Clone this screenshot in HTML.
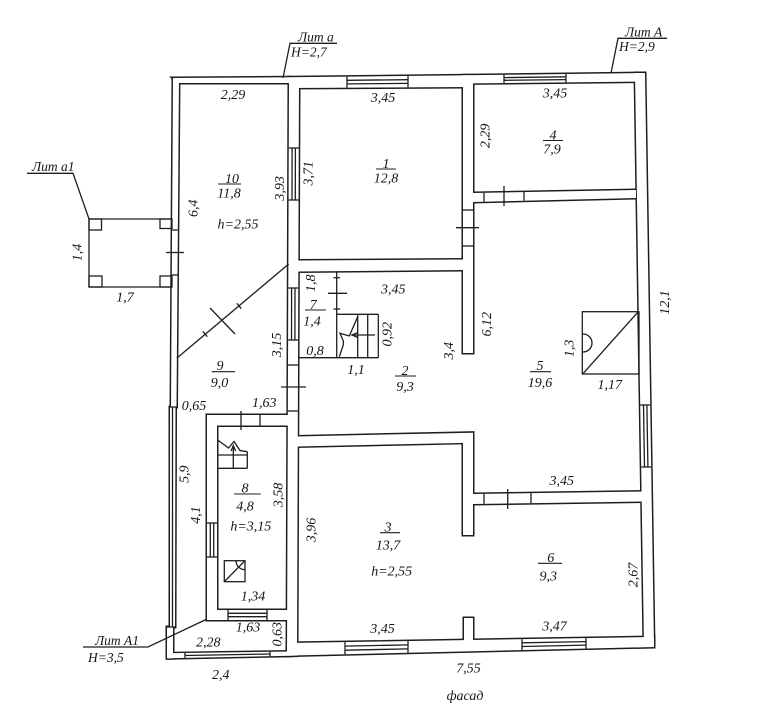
<!DOCTYPE html>
<html><head><meta charset="utf-8"><style>
html,body{margin:0;padding:0;background:#fff}
svg{display:block}
text{font-family:"Liberation Serif","DejaVu Serif",serif;font-style:italic;font-size:14px;fill:#151515}
.lt{font-size:13.5px}
</style></head><body>
<svg width="778" height="728" viewBox="0 0 778 728" xmlns="http://www.w3.org/2000/svg">
<rect width="778" height="728" fill="#fff"/>
<g fill="none" stroke="#1e1e1e" stroke-width="3">
<polygon points="173,78 179,78 176.5,407 171,407"/>
<polygon points="170,407 175.5,407 175,627 170,627"/>
<polygon points="167,627 173,627 173,658.3 167,658.3"/>
<polygon points="173,78 290,77.3 290,83 179,83"/>
<polygon points="289,77.3 468,75.3 468,87 289,88"/>
<polygon points="463,75.3 645,73 645,81.5 463,83.5"/>
<polygon points="635,73 645,73 654,647 644,647"/>
<polygon points="167,658.3 292,655.8 292,651.5 167,653.3"/>
<polygon points="287,655.6 654,647 654,637 287,643"/>
<polygon points="289,77.5 299,77.5 297,655.6 287,655.6"/>
<polygon points="463,76 473,76 473,353 463,353"/>
<polygon points="473,193 636,190 636,198 473,202"/>
<polygon points="297,260.5 463,259.5 463,270 297,271.5"/>
<polygon points="297,436.5 473,432.7 473,442.7 297,446.5"/>
<polygon points="463,433 473,433 473,535 463,535"/>
<polygon points="473,494 643,491.5 643,501.5 473,504"/>
<polygon points="464,618 473,618 473,642 464,642"/>
<polygon points="207,415 217,415 217,620 207,620"/>
<polygon points="207,415 288,415 288,425.5 207,425.5"/>
<polygon points="207,610 288,610 288,620 207,620"/>
</g>
<g fill="#fff" stroke="none">
<polygon points="173,78 179,78 176.5,407 171,407"/>
<polygon points="170,407 175.5,407 175,627 170,627"/>
<polygon points="167,627 173,627 173,658.3 167,658.3"/>
<polygon points="173,78 290,77.3 290,83 179,83"/>
<polygon points="289,77.3 468,75.3 468,87 289,88"/>
<polygon points="463,75.3 645,73 645,81.5 463,83.5"/>
<polygon points="635,73 645,73 654,647 644,647"/>
<polygon points="167,658.3 292,655.8 292,651.5 167,653.3"/>
<polygon points="287,655.6 654,647 654,637 287,643"/>
<polygon points="289,77.5 299,77.5 297,655.6 287,655.6"/>
<polygon points="463,76 473,76 473,353 463,353"/>
<polygon points="473,193 636,190 636,198 473,202"/>
<polygon points="297,260.5 463,259.5 463,270 297,271.5"/>
<polygon points="297,436.5 473,432.7 473,442.7 297,446.5"/>
<polygon points="463,433 473,433 473,535 463,535"/>
<polygon points="473,494 643,491.5 643,501.5 473,504"/>
<polygon points="464,618 473,618 473,642 464,642"/>
<polygon points="207,415 217,415 217,620 207,620"/>
<polygon points="207,415 288,415 288,425.5 207,425.5"/>
<polygon points="207,610 288,610 288,620 207,620"/>
</g>
<g stroke="#1e1e1e" stroke-width="1.3" fill="none">
<!-- windows -->
<line x1="347" y1="76.6" x2="347" y2="87.7"/><line x1="408" y1="75.9" x2="408" y2="87.3"/>
<line x1="347" y1="80.3" x2="408" y2="79.7"/><line x1="347" y1="83.9" x2="408" y2="83.4"/>
<line x1="504" y1="74.8" x2="504" y2="83.05"/><line x1="566" y1="74" x2="566" y2="82.4"/>
<line x1="504" y1="77.6" x2="566" y2="76.8"/><line x1="504" y1="80.3" x2="566" y2="79.6"/>
<line x1="288.8" y1="148" x2="298.8" y2="148"/><line x1="288.6" y1="200" x2="298.6" y2="200"/>
<line x1="292.1" y1="148" x2="292" y2="200"/><line x1="295.4" y1="148" x2="295.3" y2="200"/>
<line x1="288.3" y1="288" x2="298.3" y2="288"/><line x1="288.1" y1="340" x2="298.1" y2="340"/>
<line x1="291.6" y1="288" x2="291.5" y2="340"/><line x1="295" y1="288" x2="294.9" y2="340"/>
<line x1="640.2" y1="405" x2="650.2" y2="405"/><line x1="641.2" y1="467" x2="651.2" y2="467"/>
<line x1="643.5" y1="405" x2="644.5" y2="467"/><line x1="646.9" y1="405" x2="647.9" y2="467"/>
<line x1="345" y1="642.05" x2="345" y2="654.2"/><line x1="408" y1="641" x2="408" y2="652.8"/>
<line x1="345" y1="646.1" x2="408" y2="644.9"/><line x1="345" y1="650.2" x2="408" y2="648.9"/>
<line x1="522" y1="639.2" x2="522" y2="650.1"/><line x1="586" y1="638.1" x2="586" y2="648.6"/>
<line x1="522" y1="642.8" x2="586" y2="641.6"/><line x1="522" y1="646.5" x2="586" y2="645.1"/>
<line x1="207" y1="523" x2="217" y2="523"/><line x1="207" y1="557" x2="217" y2="557"/>
<line x1="210.3" y1="523" x2="210.3" y2="557"/><line x1="213.7" y1="523" x2="213.7" y2="557"/>
<line x1="228" y1="610" x2="228" y2="620"/><line x1="267" y1="610" x2="267" y2="620"/>
<line x1="228" y1="613.3" x2="267" y2="613.3"/><line x1="228" y1="616.7" x2="267" y2="616.7"/>
<line x1="185" y1="653" x2="185" y2="657.9"/><line x1="270" y1="651.8" x2="270" y2="656.2"/>
<line x1="185" y1="655.5" x2="270" y2="654"/>
<line x1="170" y1="407" x2="176.5" y2="407"/><line x1="167" y1="627" x2="175" y2="627"/>
<line x1="172.5" y1="407" x2="172.5" y2="627"/>
<!-- doors -->
<line x1="172.1" y1="230" x2="177.8" y2="230"/><line x1="171.8" y1="275" x2="177.5" y2="275"/>
<line x1="166" y1="252.5" x2="184" y2="252.5"/>
<line x1="288" y1="365" x2="298" y2="365"/><line x1="287.8" y1="411" x2="297.8" y2="411"/>
<line x1="281" y1="387" x2="306" y2="387"/>
<line x1="463" y1="210" x2="473" y2="210"/><line x1="463" y1="246" x2="473" y2="246"/>
<line x1="456" y1="227.7" x2="479" y2="227.7"/>
<line x1="484" y1="192.8" x2="484" y2="201.7"/><line x1="524" y1="192" x2="524" y2="200.7"/>
<line x1="504" y1="186" x2="504" y2="206"/>
<line x1="484" y1="493.8" x2="484" y2="503.8"/><line x1="531" y1="493.1" x2="531" y2="503.1"/>
<line x1="507.7" y1="489" x2="507.7" y2="509"/>
<line x1="260" y1="415" x2="260" y2="425.5"/>
<line x1="241" y1="411" x2="241" y2="430"/>
<line x1="328" y1="293.3" x2="347" y2="293.3"/>
<line x1="333.5" y1="277.7" x2="340" y2="277.7"/><line x1="333.5" y1="309" x2="340" y2="309"/>
<!-- diagonal partition -->
<line x1="176.7" y1="358.3" x2="288.7" y2="264"/>
<line x1="210" y1="308" x2="235" y2="334"/>
<line x1="202.8" y1="331.3" x2="207.3" y2="336.7"/>
<line x1="236.8" y1="303.3" x2="241.3" y2="308.7"/>
<!-- room 7 -->
<line x1="336.7" y1="271.5" x2="336.7" y2="357.7"/>
<line x1="298" y1="357.7" x2="378.3" y2="357.7"/>
<line x1="336.7" y1="314.3" x2="378.3" y2="314.3"/>
<line x1="378.3" y1="314.3" x2="378.3" y2="357.7"/>
<line x1="357.7" y1="314.3" x2="357.7" y2="357.7"/>
<line x1="367.7" y1="314.3" x2="367.7" y2="357.7"/>
<line x1="352" y1="335" x2="375" y2="335"/>
<polyline points="358,332.5 352,335 358,337.5"/>
<polyline points="339.3,356.7 343.3,345 343.3,341 340,333.3 349.3,336 358,316"/>
<!-- room 8 stair -->
<line x1="217" y1="455" x2="247.3" y2="455"/>
<line x1="217" y1="468.3" x2="247.3" y2="468.3"/>
<line x1="247.3" y1="451.7" x2="247.3" y2="468.3"/>
<polyline points="217,439.5 228.5,448 234,441.5 240,450.5 247.3,451.7"/>
<line x1="233.3" y1="468.3" x2="233.3" y2="446"/>
<polyline points="231,451 233.3,445.5 235.6,451"/>
<!-- boiler -->
<rect x="224.3" y="560.7" width="20.7" height="21"/>
<line x1="224.3" y1="581.7" x2="245" y2="560.7"/>
<path d="M236,560.7 A9,9 0 0,0 245,569.7"/>
<!-- stove -->
<rect x="582.3" y="311.7" width="56.7" height="62.3"/>
<line x1="583.3" y1="373.3" x2="638.3" y2="311.7"/>
<path d="M583,334 A9,9 0 0,1 583,352"/>
<!-- porch -->
<polyline points="172.5,219 89,219 89,287 172,287"/>
<rect x="89" y="219" width="12.5" height="11"/>
<rect x="160" y="219" width="12" height="9.5"/>
<rect x="89" y="276" width="13" height="11"/>
<rect x="160" y="276" width="12" height="11"/>
<!-- leaders -->
<polyline points="27,173.3 73,173.3 89,219"/>
<polyline points="337,43.3 290,43.3 283,78"/>
<polyline points="667,38.3 618,38.3 611,73.3"/>
<polyline points="83,647 148,647 206,619.5"/>
</g>
<!-- fraction lines -->
<g stroke="#1e1e1e" stroke-width="1.1">
<line x1="218" y1="184" x2="241" y2="184"/>
<line x1="376" y1="169" x2="396" y2="169"/>
<line x1="543" y1="140.5" x2="563" y2="140.5"/>
<line x1="305" y1="310" x2="326" y2="310"/>
<line x1="395" y1="376" x2="416" y2="376"/>
<line x1="211.7" y1="371.7" x2="235" y2="371.7"/>
<line x1="530" y1="371.7" x2="551" y2="371.7"/>
<line x1="234" y1="494" x2="260.7" y2="494"/>
<line x1="380" y1="532.7" x2="400" y2="532.7"/>
<line x1="538" y1="563.3" x2="562" y2="563.3"/>
</g>
<g text-anchor="middle">
<text x="233" y="99">2,29</text>
<text x="383" y="102">3,45</text>
<text x="555" y="97.5">3,45</text>
<text x="232" y="183">10</text><text x="229" y="197.5">11,8</text>
<text x="386" y="168">1</text><text x="386" y="182.5">12,8</text>
<text x="553" y="139.5">4</text><text x="552" y="153.5">7,9</text>
<text x="313.3" y="309">7</text><text x="312" y="325.5">1,4</text>
<text x="405" y="375">2</text><text x="405" y="391">9,3</text>
<text x="220" y="370">9</text><text x="219.5" y="387">9,0</text>
<text x="540" y="370">5</text><text x="540" y="387">19,6</text>
<text x="245" y="492.5">8</text><text x="245" y="510.5">4,8</text>
<text x="388" y="531.5">3</text><text x="388" y="549.5">13,7</text>
<text x="550.7" y="562">6</text><text x="548.3" y="580.5">9,3</text>
<text x="238" y="228.5">h=2,55</text>
<text x="125" y="301.5">1,7</text>
<text x="393.3" y="293.5">3,45</text>
<text x="315" y="355">0,8</text>
<text x="356" y="374">1,1</text>
<text x="194" y="410">0,65</text>
<text x="264.2" y="407">1,63</text>
<text x="609.7" y="389">1,17</text>
<text x="561.7" y="485">3,45</text>
<text x="250.8" y="530.5">h=3,15</text>
<text x="253" y="600.5">1,34</text>
<text x="248" y="631.5">1,63</text>
<text x="208.3" y="646.5">2,28</text>
<text x="220.8" y="679">2,4</text>
<text x="391.7" y="575.5">h=2,55</text>
<text x="382.5" y="633">3,45</text>
<text x="554.5" y="630.5">3,47</text>
<text x="468.5" y="672.5">7,55</text>
<text x="465" y="700">фасад</text>
<!-- rotated -->
<text x="484.7" y="140.6" transform="rotate(-90 484.7 135.8)">2,29</text>
<text x="307.5" y="178.1" transform="rotate(-90 307.5 173.3)">3,71</text>
<text x="279.2" y="193.1" transform="rotate(-90 279.2 188.3)">3,93</text>
<text x="192.5" y="213.1" transform="rotate(-90 192.5 208.3)">6,4</text>
<text x="76.8" y="257.3" transform="rotate(-90 76.8 252.5)">1,4</text>
<text x="310" y="288.1" transform="rotate(-90 310 283.3)">1,8</text>
<text x="386.7" y="339" transform="rotate(-90 386.7 334.2)">0,92</text>
<text x="276.2" y="349.8" transform="rotate(-90 276.2 345)">3,15</text>
<text x="448.3" y="355.6" transform="rotate(-90 448.3 350.8)">3,4</text>
<text x="486.2" y="329" transform="rotate(-90 486.2 324.2)">6,12</text>
<text x="664.2" y="307.3" transform="rotate(-90 664.2 302.5)">12,1</text>
<text x="568.7" y="353.1" transform="rotate(-90 568.7 348.3)">1,3</text>
<text x="183.8" y="479" transform="rotate(-90 183.8 474.2)">5,9</text>
<text x="195" y="519.8" transform="rotate(-90 195 515)">4,1</text>
<text x="277.5" y="499.8" transform="rotate(-90 277.5 495)">3,58</text>
<text x="310.8" y="534.8" transform="rotate(-90 310.8 530)">3,96</text>
<text x="632.5" y="579.8" transform="rotate(-90 632.5 575)">2,67</text>
<text x="276.7" y="639" transform="rotate(-90 276.7 634.2)">0,63</text>
</g>
<g>
<text class="lt" x="32" y="171">Лит а1</text>
<text class="lt" x="298" y="41.5">Лит а</text>
<text class="lt" x="291" y="56.5">H=2,7</text>
<text class="lt" x="625" y="36.5">Лит А</text>
<text class="lt" x="619" y="51">H=2,9</text>
<text class="lt" x="95" y="645">Лит А1</text>
<text class="lt" x="88" y="662">H=3,5</text>
</g>
</svg>
</body></html>
